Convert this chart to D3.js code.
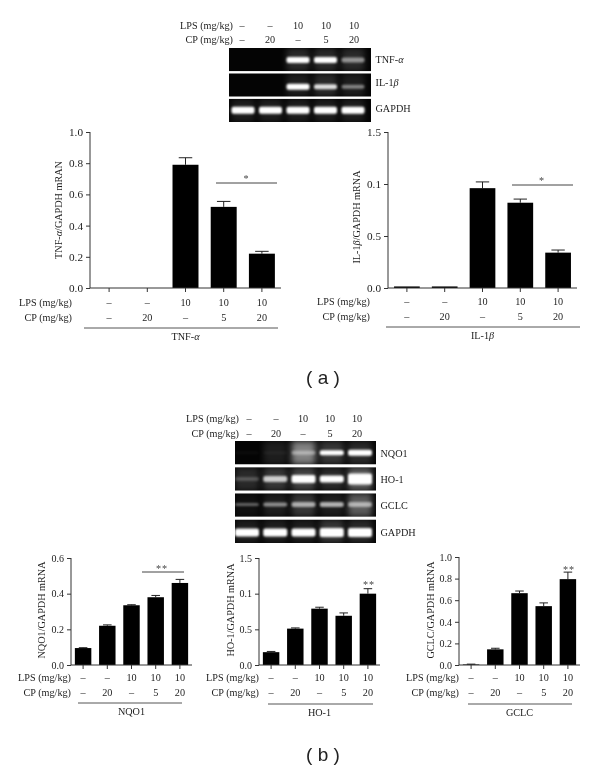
<!DOCTYPE html>
<html><head><meta charset="utf-8">
<style>
html,body{margin:0;padding:0;background:#fff}
svg{display:block;filter:blur(.3px)}
text{font-family:"Liberation Serif",serif;fill:#1c1c1c;font-size:10.2px}
.cap{font-family:"Liberation Sans",sans-serif;font-size:19px;fill:#222}
</style>
<script src="https://cdn.jsdelivr.net/npm/d3@7/dist/d3.min.js"></script>
</head><body><svg id="c" width="600" height="771"></svg>
<script>
// ---- categories ----
const lanes = [0,1,2,3,4];
const lpsLabels = ["–","–","10","10","10"];
const cpLabels  = ["–","20","–","5","20"];

// ---- panel (a) bar data ----
const tnfValues = [0,0,0.79,0.52,0.22];
const tnfTops   = [0,0,0.835,0.555,0.235];
const ilValues  = [0.015,0.015,0.96,0.82,0.34];
const ilTops    = [0.015,0.015,1.02,0.855,0.365];
// ---- panel (b) bar data ----
const nqoValues = [0.095,0.22,0.335,0.38,0.46];
const nqoTops   = [0.097,0.225,0.338,0.39,0.48];
const hoValues  = [0.18,0.51,0.79,0.69,1.0];
const hoTops    = [0.19,0.52,0.81,0.73,1.07];
const gclcValues= [0.005,0.145,0.665,0.545,0.795];
const gclcTops  = [0.008,0.155,0.685,0.575,0.86];
// ---- tick labels (as printed, including the printed "0.1") ----
const ticksTen  = [[0,"0.0"],[0.2,"0.2"],[0.4,"0.4"],[0.6,"0.6"],[0.8,"0.8"],[1,"1.0"]];
const ticksSix  = [[0,"0.0"],[0.2,"0.2"],[0.4,"0.4"],[0.6,"0.6"]];
const ticksOdd  = [[0,"0.0"],[0.5,"0.5"],[1,"0.1"],[1.5,"1.5"]];
// ---- gel blots: band brightness, band spread, background haze ----
const gelANames = ["TNF-α","IL-1β","GAPDH"];
const gelABands = [[0,0,1,1,.5],[0,0,1,.85,.45],[1,1,1,1,1]];
const gelASpread= [[4,4,6,6,5],[4,4,6,5,4],[7,7,7,7,7]];
const gelAHaze  = [[0,0,.15,.15,.15],[0,0,.1,.15,.1],[.1,.1,.1,.1,.1]];
const gelBNames = ["NQO1","HO-1","GCLC","GAPDH"];
const gelBBands = [[.03,.04,.4,1,1],[.22,.75,1,1,1],[.35,.5,.6,.65,.55],[1,1,1,1,1]];
const gelBSpread= [[3,3,4,5,6],[4,6,8,7,11],[3,4,5,5,5],[8,8,8,9,9]];
const gelBHaze  = [[0,.1,.5,.2,.15],[.15,.2,.25,.15,.35],[.05,.1,.2,.1,.35],[.1,.1,.1,.2,.15]];

const svg = d3.select("#c");
const defs = svg.append("defs");
defs.append("filter").attr("id","soft").attr("x","-30%").attr("y","-100%").attr("width","160%").attr("height","300%")
  .append("feGaussianBlur").attr("stdDeviation",.9);
defs.append("filter").attr("id","haze").attr("x","-30%").attr("y","-100%").attr("width","160%").attr("height","300%")
  .append("feGaussianBlur").attr("stdDeviation",3);

function richText(sel, label){
  label.split(/([αβ])/).forEach(p=>{
    if(!p) return;
    const t = sel.append("tspan").text(p);
    if(p==="α"||p==="β") t.style("font-style","italic");
  });
}

function rows(g, xs, yL, yC, rightX){
  g.append("text").attr("x",rightX).attr("y",yL).attr("text-anchor","end").text("LPS (mg/kg)");
  g.append("text").attr("x",rightX).attr("y",yC).attr("text-anchor","end").text("CP (mg/kg)");
  lanes.forEach(i=>{
    g.append("text").attr("x",xs(i)).attr("y",yL).attr("text-anchor","middle").text(lpsLabels[i]);
    g.append("text").attr("x",xs(i)).attr("y",yC).attr("text-anchor","middle").text(cpLabels[i]);
  });
}

function gel(o){
  const g = svg.append("g");
  const x = d3.scalePoint().domain(lanes).range(o.lanesX);
  const hx = d3.scalePoint().domain(lanes).range(o.headX);
  const y = d3.scaleBand().domain(o.names).range(o.yRange).paddingInner(o.gap);
  rows(g,hx,o.yL,o.yC,o.rightX);
  o.names.forEach((n,r)=>{
    const id = "clip"+o.key+r;
    defs.append("clipPath").attr("id",id).append("rect")
      .attr("x",o.xRange[0]).attr("y",y(n)).attr("width",o.xRange[1]-o.xRange[0]).attr("height",y.bandwidth());
    const row = g.append("g").attr("clip-path",`url(#${id})`);
    row.append("rect").attr("x",o.xRange[0]).attr("y",y(n)).attr("width",o.xRange[1]-o.xRange[0]).attr("height",y.bandwidth()).attr("fill","#040404");
    const cy = y(n)+y.bandwidth()*o.bandPos[r];
    lanes.forEach(i=>{
      const w = o.laneW;
      row.append("rect").attr("x",x(i)-w/2).attr("y",y(n)).attr("width",w).attr("height",y.bandwidth())
        .attr("fill","#fff").attr("opacity",o.haze[r][i]).attr("filter","url(#haze)");
      row.append("rect").attr("x",x(i)-w/2).attr("y",cy-o.spread[r][i]/2).attr("width",w).attr("height",o.spread[r][i])
        .attr("rx",2).attr("fill","#fff").attr("opacity",o.bands[r][i]).attr("filter","url(#soft)");
    });
    const t = g.append("text").attr("x",o.xRange[1]+4.5).attr("y",y(n)+y.bandwidth()/2+3.5+o.nameShift[r]);
    richText(t,n);
  });
}

function bars(o){
  const g = svg.append("g");
  const x = d3.scaleBand().domain(lanes).range([o.x0,o.x1]).paddingInner(.32).paddingOuter(.16);
  const y = d3.scaleLinear().domain([0,o.max]).range([o.y0,o.yTop]);
  const yAxis = d3.axisLeft(y).tickValues(o.ticks.map(d=>d[0])).tickSize(4).tickPadding(3)
    .tickFormat(v=>o.ticks.find(d=>d[0]===v)[1]);
  const xAxis = d3.axisBottom(x).tickSize(4).tickFormat("");
  lanes.forEach(i=>{
    const c = x(i)+x.bandwidth()/2;
    if(o.tops[i]<=o.values[i]) return;
    g.append("line").attr("x1",c).attr("x2",c).attr("y1",y(o.values[i])).attr("y2",y(o.tops[i])).attr("stroke","#222");
    g.append("line").attr("x1",c-x.bandwidth()*.26).attr("x2",c+x.bandwidth()*.26).attr("y1",y(o.tops[i])).attr("y2",y(o.tops[i])).attr("stroke","#222");
  });
  g.selectAll("rect.bar").data(o.values).join("rect").attr("class","bar")
    .attr("x",(d,i)=>x(i)).attr("width",x.bandwidth())
    .attr("y",d=>y(d)).attr("height",d=>y(0)-y(d)).attr("fill","#000");
  const ax = g.append("g").attr("transform",`translate(${o.x0},0)`).call(yAxis);
  const bx = g.append("g").attr("transform",`translate(0,${o.y0})`).call(xAxis);
  [ax,bx].forEach(a=>{
    a.selectAll("path,line").attr("stroke","#333");
    a.selectAll("text").style("font-family",'"Liberation Serif",serif').style("font-size",o.tickFont+"px").attr("fill","#1c1c1c");
    a.select(".domain").attr("d",a===ax?`M0,${o.y0}V${o.yTop}`:`M${o.x0},0H${o.x1}`);
  });
  const cx = i=>x(i)+x.bandwidth()/2;
  rows(g,cx,o.yL,o.yC,o.x0+o.rowGap);
  g.append("line").attr("x1",o.rule[0]).attr("x2",o.rule[1]).attr("y1",o.yR).attr("y2",o.yR).attr("stroke","#555");
  richText(g.append("text").attr("x",cx(2)).attr("y",o.yR+12).attr("text-anchor","middle"),o.name);
  const yl = g.append("text").attr("transform",`translate(${o.labelX},${o.labelY}) rotate(-90)`).attr("text-anchor","middle");
  richText(yl,o.yLabel);
  if(o.sig){
    if(o.sig.line) g.append("line").attr("x1",o.sig.line[0]).attr("x2",o.sig.line[1]).attr("y1",o.sig.y).attr("y2",o.sig.y).attr("stroke","#444");
    g.append("text").attr("x",o.sig.x).attr("y",o.sig.ty).attr("text-anchor","middle").style("fill","#444").style("letter-spacing","1px").text(o.sig.s);
  }
}

gel({key:"a",names:gelANames,bands:gelABands,spread:gelASpread,haze:gelAHaze,lanesX:[243,353],headX:[242,354],nameShift:[0,-3,-2],
  yRange:[48,122],xRange:[229,371],gap:.08,laneW:23,yL:29,yC:43,rightX:233,bandPos:[.52,.58,.5]});
gel({key:"b",names:gelBNames,bands:gelBBands,spread:gelBSpread,haze:gelBHaze,lanesX:[247,360],headX:[249,357],nameShift:[1,1,0,1],
  yRange:[441,543],xRange:[235,376],gap:.1,laneW:24,yL:422,yC:437,rightX:239,bandPos:[.5,.5,.48,.55]});

bars({name:"TNF-α",yLabel:"TNF-α/GAPDH mRAN",values:tnfValues,tops:tnfTops,max:1,ticks:ticksTen,tickFont:11.2,x0:90,x1:281,y0:288,yTop:132,
  yL:306,yC:321,rowGap:-18,rule:[84,278],yR:328,labelX:62,labelY:210,sig:{line:[216,277],y:183,x:246.5,ty:182,s:"*"}});
bars({name:"IL-1β",yLabel:"IL-1β/GAPDH mRNA",values:ilValues,tops:ilTops,max:1.5,ticks:ticksOdd,tickFont:11.2,x0:388,x1:577,y0:288,yTop:132,
  yL:305,yC:320,rowGap:-18,rule:[386,580],yR:327,labelX:360,labelY:217,sig:{line:[512,573],y:185,x:542,ty:184,s:"*"}});
bars({name:"NQO1",yLabel:"NQO1/GAPDH mRNA",values:nqoValues,tops:nqoTops,max:.6,ticks:ticksSix,tickFont:10,x0:71,x1:192,y0:665,yTop:558,
  yL:681,yC:696,rowGap:0,rule:[78,182],yR:703,labelX:45,labelY:610,sig:{line:[142,184],y:572,x:162,ty:572,s:"**"}});
bars({name:"HO-1",yLabel:"HO-1/GAPDH mRNA",values:hoValues,tops:hoTops,max:1.5,ticks:ticksOdd,tickFont:10,x0:259,x1:380,y0:665,yTop:558,
  yL:681,yC:696,rowGap:0,rule:[268,373],yR:704,labelX:234,labelY:610,sig:{x:369,ty:588,s:"**"}});
bars({name:"GCLC",yLabel:"GCLC/GAPDH mRNA",values:gclcValues,tops:gclcTops,max:1,ticks:ticksTen,tickFont:10,x0:459,x1:580,y0:665,yTop:557,
  yL:681,yC:696,rowGap:0,rule:[468,572],yR:704,labelX:434,labelY:610,sig:{x:569,ty:573,s:"**"}});

svg.append("text").attr("class","cap").attr("x",323).attr("y",384).attr("text-anchor","middle").text("( a )");
svg.append("text").attr("class","cap").attr("x",323).attr("y",761).attr("text-anchor","middle").text("( b )");
</script></body></html>
